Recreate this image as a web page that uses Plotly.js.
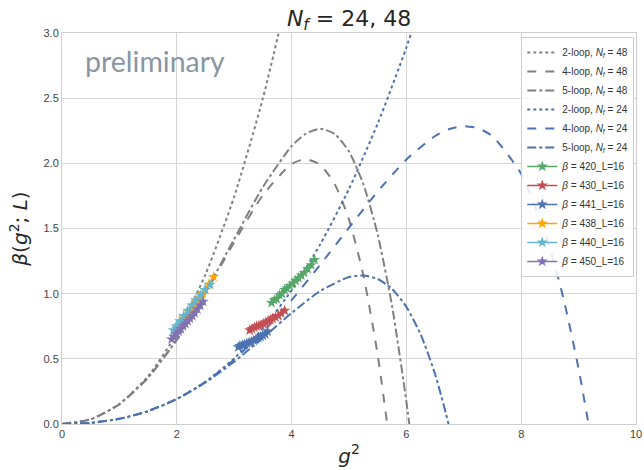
<!DOCTYPE html>
<html><head><meta charset="utf-8">
<script src="https://cdn.plot.ly/plotly-3.0.1.min.js"></script>
<style>body{margin:0;padding:0;background:#fff}#chart{width:644px;height:470px}</style>
</head><body><div id="chart"></div>
<script>
// Perturbative curves (g^2 vs beta)
const nf48_2loop_x = [0,0.5,1,1.5,2,2.5,3,3.5,4];
const nf48_2loop_y = [0,0.0358,0.1533,0.3677,0.6943,1.1482,1.7447,2.4990,3.4264];
const nf48_4loop_x = [0,0.5,1,1.5,2,2.5,3,3.5,4,4.25,4.5,4.75,5,5.25,5.5,5.75,6];
const nf48_4loop_y = [0,0.0357,0.1515,0.3556,0.6458,1.0048,1.3955,1.7562,1.9955,2.0319,1.9879,1.8416,1.5686,1.1414,0.5293,-0.3011,-1.3871];
const nf48_5loop_x = [0,0.5,1,1.5,2,2.5,3,3.5,4,4.25,4.5,4.75,5,5.25,5.5,5.75,6,6.1,6.25];
const nf48_5loop_y = [0,0.0357,0.1515,0.3560,0.6479,1.0130,1.4198,1.8176,2.1323,2.2287,2.2652,2.2252,2.0904,1.8407,1.4538,0.9060,0.1711,-0.1814,-0.7785];
const nf24_2loop_x = [0,0.5,1,1.5,2,2.5,3,3.5,4,4.5,5,5.5,6,6.5];
const nf24_2loop_y = [0,0.0089,0.0398,0.0986,0.1915,0.3245,0.5037,0.7352,1.0250,1.3793,1.8041,2.3055,2.8896,3.5624];
const nf24_4loop_x = [0,0.5,1,1.5,2,2.5,3,3.5,4,4.5,5,5.5,6,6.5,6.75,7,7.25,7.5,8,8.5,8.75,9,9.25,9.5];
const nf24_4loop_y = [0,0.0089,0.0400,0.0995,0.1929,0.3242,0.4955,0.7059,0.9510,1.2224,1.5063,1.7838,2.0292,2.2099,2.2638,2.2857,2.2695,2.2079,1.9186,1.3500,0.9368,0.4237,-0.2011,-0.9498];
const nf24_5loop_x = [0,0.5,1,1.5,2,2.5,3,3.5,4,4.5,5,5.25,5.5,5.75,6,6.25,6.5,6.75,7];
const nf24_5loop_y = [0,0.0089,0.0400,0.0992,0.1913,0.3183,0.4778,0.6613,0.8517,1.0211,1.1276,1.1399,1.1129,1.0364,0.8984,0.6854,0.3820,-0.0286,-0.5656];

// Lattice data
const b420_x = [3.65,3.70,3.74,3.79,3.83,3.88,3.92,3.97,4.02,4.07,4.12,4.17,4.22,4.28,4.34,4.40];
const b420_y = [0.93,0.95,0.96,0.99,1.00,1.03,1.04,1.06,1.08,1.10,1.12,1.14,1.16,1.19,1.22,1.26];
const b430_x = [3.27,3.31,3.35,3.39,3.43,3.47,3.51,3.55,3.59,3.63,3.67,3.72,3.77,3.82,3.88];
const b430_y = [0.72,0.73,0.74,0.75,0.755,0.76,0.77,0.78,0.79,0.80,0.81,0.82,0.83,0.85,0.87];
const b441_x = [3.07,3.10,3.14,3.18,3.22,3.26,3.30,3.34,3.38,3.42,3.46,3.50,3.54,3.58];
const b441_y = [0.59,0.60,0.605,0.61,0.62,0.625,0.63,0.64,0.65,0.66,0.67,0.68,0.69,0.71];
const b438_x = [2.00,2.04,2.08,2.12,2.16,2.21,2.25,2.30,2.35,2.40,2.45,2.50,2.56,2.64];
const b438_y = [0.73,0.76,0.78,0.81,0.83,0.86,0.88,0.91,0.94,0.97,1.00,1.03,1.07,1.13];
const b440_x = [1.94,1.99,2.05,2.12,2.19,2.26,2.33,2.41,2.49,2.58];
const b440_y = [0.72,0.75,0.79,0.83,0.87,0.91,0.95,0.99,1.03,1.07];
const b450_x = [1.91,1.95,1.99,2.03,2.07,2.11,2.15,2.19,2.23,2.27,2.31,2.36,2.41,2.46];
const b450_y = [0.65,0.67,0.69,0.71,0.73,0.75,0.77,0.79,0.81,0.83,0.85,0.88,0.91,0.94];

const xTicks = [0,2,4,6,8,10];
const yTicks = [0,0.5,1,1.5,2,2.5,3];

const GRAY = '#808080', BLUE = '#4C72B0';
function curve(x, y, name, color, dash) {
  return {x, y, name, type:'scatter', mode:'lines', line:{color, dash, width:2, shape:'spline', smoothing:0.6}, hoverinfo:'skip'};
}
function data(x, y, name, color) {
  return {x, y, name, type:'scatter', mode:'lines+markers',
    line:{color, width:1.5}, marker:{symbol:'star', size:8.5, color, line:{width:0}},
    error_y:{type:'constant', value:0.008, color, thickness:1, width:0}};
}
const traces = [
  curve(nf48_2loop_x, nf48_2loop_y, '2-loop, <i>N<sub>f</sub></i> = 48', GRAY, 'dot'),
  curve(nf48_4loop_x, nf48_4loop_y, '4-loop, <i>N<sub>f</sub></i> = 48', GRAY, 'dash'),
  curve(nf48_5loop_x, nf48_5loop_y, '5-loop, <i>N<sub>f</sub></i> = 48', GRAY, 'dashdot'),
  curve(nf24_2loop_x, nf24_2loop_y, '2-loop, <i>N<sub>f</sub></i> = 24', BLUE, 'dot'),
  curve(nf24_4loop_x, nf24_4loop_y, '4-loop, <i>N<sub>f</sub></i> = 24', BLUE, 'dash'),
  curve(nf24_5loop_x, nf24_5loop_y, '5-loop, <i>N<sub>f</sub></i> = 24', BLUE, 'dashdot'),
  data(b420_x, b420_y, '<i>β</i> = 420_L=16', '#55A868'),
  data(b430_x, b430_y, '<i>β</i> = 430_L=16', '#C44E52'),
  data(b441_x, b441_y, '<i>β</i> = 441_L=16', BLUE),
  data(b438_x, b438_y, '<i>β</i> = 438_L=16', '#FFA500'),
  data(b440_x, b440_y, '<i>β</i> = 440_L=16', '#64B5CD'),
  data(b450_x, b450_y, '<i>β</i> = 450_L=16', '#8172B2')
];

const layout = {
  width:644, height:470,
  margin:{l:62, r:8, t:33, b:46},
  paper_bgcolor:'#fff', plot_bgcolor:'#fff',
  font:{family:'Liberation Sans, Arial, sans-serif', color:'#444'},
  title:{text:'<i>N<sub>f</sub></i> = 24, 48', x:0.542, xanchor:'center', y:0.962, yanchor:'middle', yref:'container',
    font:{family:'DejaVu Sans', size:22, color:'#262626'}},
  xaxis:{range:[0,10], tickvals:xTicks, ticktext:xTicks.map(String), showgrid:true, gridcolor:'#d6d6d6', gridwidth:1,
    zeroline:false, showline:true, mirror:true, linecolor:'#cfcfcf', linewidth:1, ticks:'', ticklen:0,
    tickfont:{size:11, color:'#444'},
    title:{text:'<i>g</i><sup>2</sup>', font:{family:'DejaVu Sans', size:20, color:'#262626'}, standoff:9}},
  yaxis:{range:[0,3], tickvals:yTicks, ticktext:yTicks.map(v=>v.toFixed(1)), showgrid:true, gridcolor:'#d6d6d6', gridwidth:1,
    zeroline:false, showline:true, mirror:true, linecolor:'#cfcfcf', linewidth:1, ticks:'', ticklen:0,
    tickfont:{size:11, color:'#444'},
    title:{text:'<i>β</i>(<i>g</i><sup>2</sup>; <i>L</i>)', font:{family:'DejaVu Sans', size:20, color:'#262626'}, standoff:10}},
  legend:{x:0.997, xanchor:'right', y:0.99, yanchor:'top', bgcolor:'rgba(255,255,255,0.85)', bordercolor:'#cccccc', borderwidth:1,
    font:{family:'Liberation Sans, Arial, sans-serif', size:10, color:'#333'}, itemwidth:30, tracegroupgap:0},
  annotations:[{text:'preliminary', xref:'paper', yref:'paper', x:0.036, y:0.928, xanchor:'left', yanchor:'middle',
    showarrow:false, font:{family:'Lato', size:28.5, color:'#8796a5'}}],
  showlegend:true
};
Plotly.newPlot('chart', traces, layout, {displayModeBar:false, staticPlot:true});
</script>
</body></html>
